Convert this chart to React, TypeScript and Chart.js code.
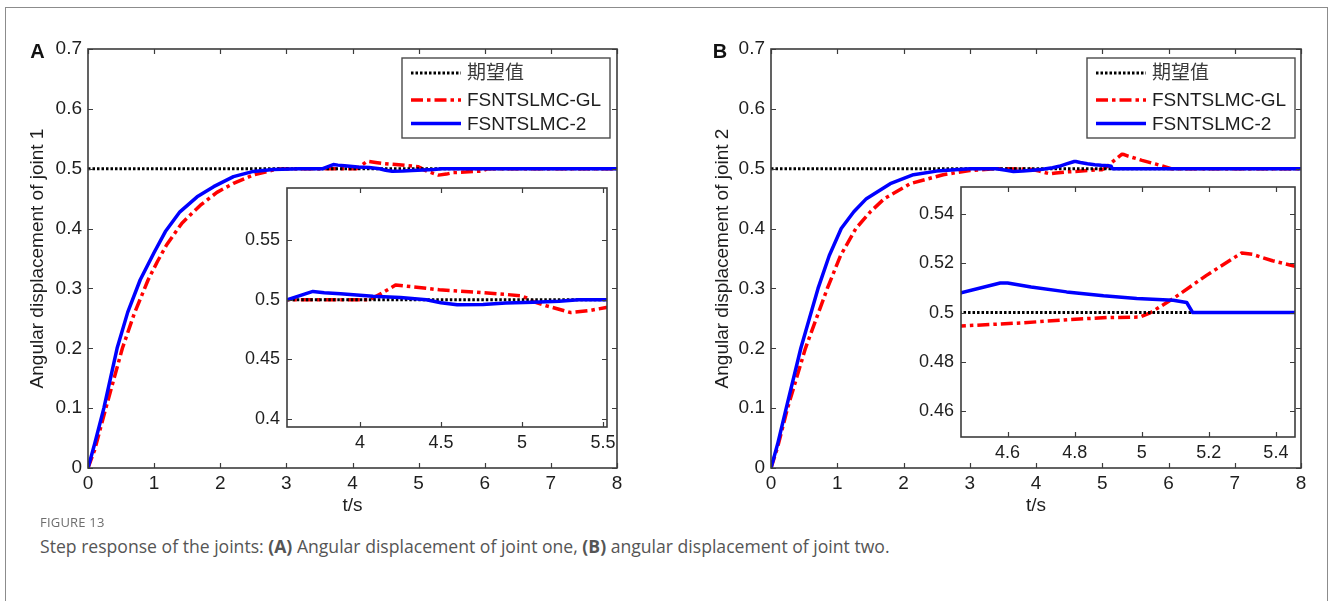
import React, { useEffect, useRef } from "react";
import { Chart, registerables } from "chart.js";
Chart.register(...registerables);

// ---------------- data ----------------
const xTicksMain = [0, 1, 2, 3, 4, 5, 6, 7, 8];
const yTicksMain = [0, 0.1, 0.2, 0.3, 0.4, 0.5, 0.6, 0.7];
const xTicksInset1 = [4, 4.5, 5, 5.5];
const yTicksInset1 = [0.4, 0.45, 0.5, 0.55];
const xTicksInset2 = [4.6, 4.8, 5, 5.2, 5.4];
const yTicksInset2 = [0.46, 0.48, 0.5, 0.52, 0.54];

const seriesNames = ["期望值", "FSNTSLMC-GL", "FSNTSLMC-2"];

const refTime = [0, 8];
const refValue = [0.5, 0.5];

// joint 1
const blueTime1 = [0, 0.1, 0.24, 0.44, 0.6, 0.79, 1.0, 1.17, 1.39, 1.65, 1.9, 2.2, 2.5, 2.8, 3.2, 3.55, 3.62, 3.71, 3.78, 3.88, 4.08, 4.25, 4.41, 4.5, 4.6, 4.76, 4.9, 5.07, 5.23, 5.35, 8];
const blueJoint1 = [0, 0.04, 0.1, 0.2, 0.26, 0.3145, 0.36, 0.395, 0.428, 0.453, 0.47, 0.4867, 0.4955, 0.4988, 0.5, 0.5, 0.503, 0.507, 0.506, 0.505, 0.503, 0.502, 0.5, 0.4975, 0.4958, 0.496, 0.4972, 0.498, 0.4988, 0.5, 0.5];
const redTime1 = [0, 0.1, 0.27, 0.52, 0.7, 0.91, 1.05, 1.19, 1.42, 1.7, 1.95, 2.2, 2.5, 2.86, 3.2, 4.06, 4.14, 4.22, 4.35, 4.49, 4.7, 4.9, 4.99, 5.03, 5.07, 5.15, 5.3, 5.42, 5.52, 5.7, 5.95, 6.05, 8];
const redJoint1 = [0, 0.03, 0.1, 0.2, 0.258, 0.3145, 0.345, 0.373, 0.409, 0.439, 0.4605, 0.4755, 0.4895, 0.4995, 0.5, 0.5, 0.506, 0.5124, 0.5105, 0.5084, 0.5065, 0.5045, 0.5034, 0.5015, 0.4985, 0.495, 0.4893, 0.491, 0.4935, 0.4945, 0.496, 0.5, 0.5];

// joint 2
const blueTime2 = [0, 0.1, 0.23, 0.45, 0.71, 0.88, 1.06, 1.25, 1.44, 1.8, 2.15, 2.5, 3.0, 3.4, 3.55, 3.66, 3.8, 3.95, 4.1, 4.25, 4.35, 4.461, 4.578, 4.6, 4.67, 4.776, 4.886, 4.985, 5.094, 5.134, 5.152, 8];
const blueJoint2 = [0, 0.04, 0.1, 0.2, 0.3, 0.355, 0.4, 0.428, 0.45, 0.475, 0.49, 0.496, 0.5, 0.5, 0.4975, 0.4955, 0.496, 0.4975, 0.499, 0.5015, 0.504, 0.508, 0.512, 0.512, 0.5104, 0.5084, 0.5068, 0.5057, 0.505, 0.5041, 0.5, 0.5];
const redTime2 = [0, 0.1, 0.25, 0.52, 0.85, 1.05, 1.28, 1.5, 1.71, 2.1, 2.6, 3.0, 3.4, 3.9, 4.05, 4.21, 4.3, 4.461, 4.638, 4.786, 4.896, 4.995, 5.025, 5.094, 5.193, 5.298, 5.33, 5.39, 5.457, 5.6, 5.8, 6.04, 8];
const redJoint2 = [0, 0.035, 0.1, 0.2, 0.3, 0.355, 0.4, 0.428, 0.45, 0.475, 0.49, 0.497, 0.5, 0.4995, 0.496, 0.4915, 0.493, 0.4946, 0.4958, 0.4972, 0.498, 0.4982, 0.4999, 0.5057, 0.5151, 0.5242, 0.5236, 0.521, 0.5188, 0.514, 0.508, 0.5, 0.5];

// ---------------- styles ----------------
const FONT = "'Liberation Sans', Arial, Helvetica, sans-serif";
const AXIS_COLOR = "#3c3c3c";
const TEXT_COLOR = "#1e1e1e";
const REF_STYLE = { color: "#000000", width: 3, dash: [2.5, 2] };
const GL_STYLE = { color: "#ff0000", width: 3.5, dash: [12, 4, 3.5, 4] };
const T2_STYLE = { color: "#0000ff", width: 3.5, dash: [] as number[] };

type Rect = { left: number; top: number; width: number; height: number };
type Area = { left: number; top: number; right: number; bottom: number };
type Series = { time: number[]; value: number[]; style: { color: string; width: number; dash: number[] }; order: number };

type PanelProps = {
  canvas: Rect;
  area: Area;
  xRange: [number, number];
  yRange: [number, number];
  xTicks: number[];
  yTicks: number[];
  series: Series[];
  tickSize: number;
  xLabelPad: number;
  yLabelPad: number;
  tickLen: number;
  inset?: boolean;
  xTitle?: { text: string; centerY: number };
  yTitle?: { text: string; centerX: number };
  letter?: { text: string; x: number; y: number };
  legend?: { rightOff: number; topOff: number; width: number; height: number; rows: number[] };
};

function ChartBox(p: PanelProps) {
  const ref = useRef<HTMLCanvasElement | null>(null);
  useEffect(() => {
    const cv = ref.current;
    if (!cv) return;
    const { canvas, area } = p;
    const yW = area.left - canvas.left;
    const xH = canvas.top + canvas.height - area.bottom;
    const canvasBottom = canvas.top + canvas.height;
    const titleSize = 19;
    const halfLH = (titleSize * 1.2) / 2;

    const framePlugin = {
      id: "frameTicks",
      beforeDatasetsDraw(chart: any) {
        if (!p.inset) return;
        const ctx = chart.ctx;
        const a = chart.chartArea;
        ctx.save();
        ctx.fillStyle = "#ffffff";
        ctx.fillRect(a.left, a.top, a.right - a.left, a.bottom - a.top);
        ctx.restore();
      },
      afterDatasetsDraw(chart: any) {
        const ctx = chart.ctx;
        const a = chart.chartArea;
        const xs = chart.scales.x;
        const ys = chart.scales.y;
        ctx.save();
        ctx.strokeStyle = AXIS_COLOR;
        ctx.lineWidth = 1.2;
        ctx.beginPath();
        p.xTicks.forEach((v) => {
          const px = Math.round(xs.getPixelForValue(v)) + 0.5;
          ctx.moveTo(px, a.bottom);
          ctx.lineTo(px, a.bottom - p.tickLen);
          ctx.moveTo(px, a.top);
          ctx.lineTo(px, a.top + p.tickLen);
        });
        p.yTicks.forEach((v) => {
          const py = Math.round(ys.getPixelForValue(v)) + 0.5;
          ctx.moveTo(a.left, py);
          ctx.lineTo(a.left + p.tickLen, py);
          ctx.moveTo(a.right, py);
          ctx.lineTo(a.right - p.tickLen, py);
        });
        ctx.stroke();
        ctx.lineWidth = 1.6;
        ctx.strokeRect(a.left, a.top, a.right - a.left, a.bottom - a.top);
        ctx.restore();
      },
      afterDraw(chart: any) {
        const ctx = chart.ctx;
        const a = chart.chartArea;
        ctx.save();
        if (p.legend) {
          const L = p.legend;
          const bx = a.right - L.rightOff - L.width;
          const by = a.top + L.topOff;
          ctx.fillStyle = "#ffffff";
          ctx.fillRect(bx, by, L.width, L.height);
          ctx.strokeStyle = "#4a4a4a";
          ctx.lineWidth = 1.4;
          ctx.strokeRect(bx, by, L.width, L.height);
          const styles = [REF_STYLE, GL_STYLE, T2_STYLE];
          styles.forEach((s, i) => {
            const y = by + L.rows[i];
            ctx.beginPath();
            ctx.strokeStyle = s.color;
            ctx.lineWidth = s.width;
            ctx.lineCap = "butt";
            ctx.setLineDash(s.dash);
            ctx.moveTo(bx + 9, y);
            ctx.lineTo(bx + 59, y);
            ctx.stroke();
            ctx.setLineDash([]);
            ctx.fillStyle = i === 0 ? "#3a3a3a" : TEXT_COLOR;
            ctx.font = `19px ${FONT}, 'Noto Sans CJK SC'`;
            ctx.textAlign = "left";
            ctx.textBaseline = "middle";
            ctx.fillText(seriesNames[i], bx + 65, y + 1);
          });
        }
        if (p.letter) {
          ctx.fillStyle = "#111";
          ctx.font = `bold 20px ${FONT}`;
          ctx.textAlign = "center";
          ctx.textBaseline = "middle";
          ctx.fillText(p.letter.text, p.letter.x - canvas.left, p.letter.y - canvas.top);
        }
        ctx.restore();
      },
    };

    const tickFont = { family: FONT, size: p.tickSize };
    const chart = new Chart(cv, {
      type: "line",
      data: {
        datasets: p.series.map((s) => ({
          data: s.time.map((t, i) => ({ x: t, y: s.value[i] })),
          borderColor: s.style.color,
          borderWidth: s.style.width,
          borderDash: s.style.dash,
          borderCapStyle: "butt",
          borderJoinStyle: "round",
          pointRadius: 0,
          fill: false,
          tension: 0,
          order: s.order,
        })),
      },
      options: {
        responsive: false,
        animation: false,
        devicePixelRatio: 1,
        events: [],
        layout: {
          padding: {
            left: 0,
            top: area.top - canvas.top,
            right: canvas.left + canvas.width - area.right,
            bottom: 0,
          },
        },
        plugins: {
          legend: { display: false },
          tooltip: { enabled: false },
          title: { display: false },
        },
        scales: {
          x: {
            type: "linear",
            position: "bottom",
            min: p.xRange[0],
            max: p.xRange[1],
            afterBuildTicks: (s: any) => {
              s.ticks = p.xTicks.map((v) => ({ value: v }));
            },
            afterFit: (s: any) => {
              s.height = xH;
              s.paddingLeft = 0;
              s.paddingRight = 0;
            },
            grid: { display: false, drawTicks: false },
            border: { display: false },
            ticks: {
              font: tickFont,
              color: TEXT_COLOR,
              padding: p.xLabelPad,
              maxRotation: 0,
              minRotation: 0,
              autoSkip: false,
              callback: (v: any) => String(v),
            },
            title: p.xTitle
              ? {
                  display: true,
                  text: p.xTitle.text,
                  color: TEXT_COLOR,
                  font: { family: FONT, size: titleSize },
                  padding: { top: 0, bottom: canvasBottom - halfLH - p.xTitle.centerY },
                }
              : { display: false },
          },
          y: {
            type: "linear",
            position: "left",
            min: p.yRange[0],
            max: p.yRange[1],
            afterBuildTicks: (s: any) => {
              s.ticks = p.yTicks.map((v) => ({ value: v }));
            },
            afterFit: (s: any) => {
              s.width = yW;
              s.paddingTop = 0;
              s.paddingBottom = 0;
            },
            grid: { display: false, drawTicks: false },
            border: { display: false },
            ticks: {
              font: tickFont,
              color: TEXT_COLOR,
              padding: p.yLabelPad,
              autoSkip: false,
              callback: (v: any) => String(v),
            },
            title: p.yTitle
              ? {
                  display: true,
                  text: p.yTitle.text,
                  color: TEXT_COLOR,
                  font: { family: FONT, size: titleSize },
                  padding: { top: p.yTitle.centerX - canvas.left - halfLH, bottom: 0 },
                }
              : { display: false },
          },
        },
      } as any,
      plugins: [framePlugin],
    } as any);
    return () => chart.destroy();
  }, []);
  const c = p.canvas;
  return (
    <canvas
      ref={ref}
      width={c.width}
      height={c.height}
      style={{ position: "absolute", left: c.left, top: c.top, width: c.width, height: c.height }}
    />
  );
}

const legendBox = { rightOff: 7, topOff: 9, width: 208, height: 80, rows: [15, 42, 65.5] };

function makeSeries(bt: number[], bv: number[], rt: number[], rv: number[]): Series[] {
  return [
    { time: rt, value: rv, style: GL_STYLE, order: 2 },
    { time: refTime, value: refValue, style: REF_STYLE, order: 1 },
    { time: bt, value: bv, style: T2_STYLE, order: 0 },
  ];
}

export default function App() {
  const s1 = makeSeries(blueTime1, blueJoint1, redTime1, redJoint1);
  const s2 = makeSeries(blueTime2, blueJoint2, redTime2, redJoint2);
  return (
    <div
      style={{
        position: "absolute",
        left: 0,
        top: 0,
        width: 1330,
        height: 601,
        overflow: "hidden",
        background: "#ffffff",
      }}
    >
      <div
        style={{
          position: "absolute",
          left: 5,
          top: 7,
          width: 1323,
          height: 700,
          border: "1px solid #8c8c8c",
          boxSizing: "border-box",
        }}
      />
      {/* Panel A */}
      <ChartBox
        canvas={{ left: 0, top: 20, width: 640, height: 510 }}
        area={{ left: 88, top: 49, right: 617, bottom: 468 }}
        xRange={[0, 8]}
        yRange={[0, 0.7]}
        xTicks={xTicksMain}
        yTicks={yTicksMain}
        series={s1}
        tickSize={19}
        xLabelPad={4}
        yLabelPad={6}
        tickLen={5}
        xTitle={{ text: "t/s", centerY: 506 }}
        yTitle={{ text: "Angular displacement of joint 1", centerX: 37.5 }}
        letter={{ text: "A", x: 37.5, y: 52.5 }}
        legend={legendBox}
      />
      <ChartBox
        canvas={{ left: 230, top: 175, width: 390, height: 285 }}
        area={{ left: 287, top: 188, right: 607, bottom: 427 }}
        xRange={[3.55, 5.525]}
        yRange={[0.393, 0.594]}
        xTicks={xTicksInset1}
        yTicks={yTicksInset1}
        series={s1}
        tickSize={18}
        xLabelPad={5}
        yLabelPad={7}
        tickLen={5}
        inset
      />
      {/* Panel B */}
      <ChartBox
        canvas={{ left: 683, top: 20, width: 640, height: 510 }}
        area={{ left: 771, top: 49, right: 1301, bottom: 468 }}
        xRange={[0, 8]}
        yRange={[0, 0.7]}
        xTicks={xTicksMain}
        yTicks={yTicksMain}
        series={s2}
        tickSize={19}
        xLabelPad={4}
        yLabelPad={6}
        tickLen={5}
        xTitle={{ text: "t/s", centerY: 506 }}
        yTitle={{ text: "Angular displacement of joint 2", centerX: 723 }}
        letter={{ text: "B", x: 720, y: 52.5 }}
        legend={{ ...legendBox, rightOff: 6 }}
      />
      <ChartBox
        canvas={{ left: 900, top: 175, width: 420, height: 290 }}
        area={{ left: 961, top: 187, right: 1295, bottom: 437 }}
        xRange={[4.461, 5.457]}
        yRange={[0.4496, 0.5509]}
        xTicks={xTicksInset2}
        yTicks={yTicksInset2}
        series={s2}
        tickSize={18}
        xLabelPad={5}
        yLabelPad={7}
        tickLen={5}
        inset
      />
      {/* Caption */}
      <div
        style={{
          position: "absolute",
          left: 40,
          top: 513,
          lineHeight: "18px",
          fontSize: 13,
          fontFamily: "'Open Sans', 'Noto Sans', sans-serif",
          color: "#6e6e6e",
          letterSpacing: 0.2,
          whiteSpace: "nowrap",
        }}
      >
        FIGURE 13
      </div>
      <div
        style={{
          position: "absolute",
          left: 40,
          top: 534,
          lineHeight: "24px",
          fontSize: 17.6,
          fontFamily: "'Open Sans', 'Noto Sans', sans-serif",
          color: "#555555",
          whiteSpace: "nowrap",
        }}
      >
        Step response of the joints: <b>(A)</b> Angular displacement of joint one, <b>(B)</b> angular displacement of joint two.
      </div>
    </div>
  );
}
